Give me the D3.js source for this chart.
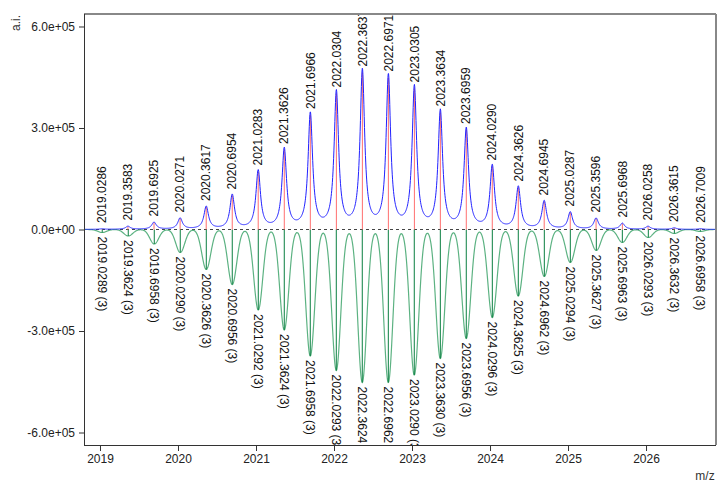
<!DOCTYPE html>
<html>
<head>
<meta charset="utf-8">
<script src="https://cdn.jsdelivr.net/npm/d3@7"></script>
<style>
  body { margin: 0; background: #fff; }
  text { font-family: "Liberation Sans", Arial, sans-serif; }
</style>
</head>
<body>
<script>
'use strict';

// measured centroids (top, blue profile / red sticks)
const measMz = [2019.0286, 2019.3583, 2019.6925, 2020.0271, 2020.3617, 2020.6954,
  2021.0283, 2021.3626, 2021.6966, 2022.0304, 2022.3637, 2022.6971,
  2023.0305, 2023.3634, 2023.6959, 2024.0290, 2024.3626, 2024.6945,
  2025.0287, 2025.3596, 2025.6968, 2026.0258, 2026.3615, 2026.7009];
const measInt = [1500, 8900, 20700, 32500, 66500, 100500,
  171400, 235000, 338400, 402000, 464000, 449300,
  416800, 345800, 294100, 186200, 124100, 82800,
  50200, 32500, 17700, 8900, 4400, 2000];

// simulated centroids (bottom, green), charge 3
const simMz = [2019.0289, 2019.3624, 2019.6958, 2020.0290, 2020.3626, 2020.6956,
  2021.0292, 2021.3624, 2021.6958, 2022.0293, 2022.3624, 2022.6962,
  2023.0290, 2023.3630, 2023.6956, 2024.0296, 2024.3625, 2024.6962,
  2025.0294, 2025.3627, 2025.6963, 2026.0293, 2026.3632, 2026.6958];
const simInt = [8900, 19200, 42900, 68000, 118200, 162600,
  237900, 297000, 373900, 416800, 452200, 452200,
  430000, 381300, 322200, 260100, 196600, 138900,
  97500, 62100, 38400, 23600, 11800, 5900];
const simCharge = 3;

const xTicks = [2019, 2020, 2021, 2022, 2023, 2024, 2025, 2026];
const yTicks = [-6e5, -3e5, 0, 3e5, 6e5];

(function() {
  const width = 717, height = 482;
  const left = 84, right = 716, top = 14, bottom = 445;

  let svg = d3.select('body').append('svg')
    .attr('width', width)
    .attr('height', height);

  let x = d3.scaleLinear().domain([2018.795, 2026.897]).range([left, right]);
  let y = d3.scaleLinear().domain([-636900, 636900]).range([bottom, top]);

  svg.append('clipPath').attr('id', 'plot')
    .append('rect')
    .attr('x', left).attr('y', top)
    .attr('width', right - left).attr('height', bottom - top);

  let plot = svg.append('g').attr('clip-path', 'url(#plot)');

  // zero line
  plot.append('line')
    .attr('x1', left).attr('x2', right)
    .attr('y1', y(0)).attr('y2', y(0))
    .attr('stroke', '#444')
    .attr('stroke-dasharray', '3,3');

  // profile curves built from the centroid lists (peak shapes)
  let grid = d3.range(2018.795, 2026.9, 0.004);
  let measProfile = grid.map(function(m) {
    let s = 0;
    measMz.forEach(function(c, i) {
      let d = (m - c) / 0.035;
      s += measInt[i] / (1 + d * d);
    });
    return [m, s];
  });
  let simProfile = grid.map(function(m) {
    let s = 0;
    simMz.forEach(function(c, i) {
      let d = (m - c) / 0.057;
      s += simInt[i] * Math.exp(-0.5 * d * d);
    });
    return [m, -s];
  });

  let line = d3.line().x((d) => x(d[0])).y((d) => y(d[1]));

  // simulated (green, below)
  plot.append('path')
    .datum(simProfile)
    .attr('d', line)
    .attr('fill', 'none')
    .attr('stroke', '#5cb282')
    .attr('stroke-width', 1.2);

  plot.selectAll('.simStick')
    .data(simMz)
    .enter()
    .append('line')
      .attr('x1', (d) => x(d)).attr('x2', (d) => x(d))
      .attr('y1', y(0))
      .attr('y2', (d, i) => y(-simInt[i]))
      .attr('stroke', '#0a7f40')
      .attr('stroke-width', 1);

  // measured (red sticks + blue profile)
  plot.selectAll('.measStick')
    .data(measMz)
    .enter()
    .append('line')
      .attr('x1', (d) => x(d)).attr('x2', (d) => x(d))
      .attr('y1', y(0))
      .attr('y2', (d, i) => y(measInt[i]))
      .attr('stroke', '#ff6f6f')
      .attr('stroke-width', 1);

  plot.append('path')
    .datum(measProfile)
    .attr('d', line)
    .attr('fill', 'none')
    .attr('stroke', '#2222ff')
    .attr('stroke-width', 1);

  // peak labels
  plot.selectAll('.measLabel')
    .data(measMz)
    .enter()
    .append('text')
      .attr('transform', (d, i) => 'translate(' + x(d) + ',' + (y(measInt[i]) - 6) + ')rotate(-90)')
      .attr('dy', '0.35em')
      .style('font-size', '12px')
      .attr('fill', '#111')
      .text((d) => d.toFixed(4));

  plot.selectAll('.simLabel')
    .data(simMz)
    .enter()
    .append('text')
      .attr('transform', (d, i) => 'translate(' + x(d) + ',' + (y(-simInt[i]) + 4) + ')rotate(90)')
      .attr('dy', '0.35em')
      .style('font-size', '12px')
      .attr('fill', '#111')
      .text((d) => d.toFixed(4) + ' (' + simCharge + ')');

  // axes
  let yAxis = d3.axisLeft(y)
    .tickValues(yTicks)
    .tickSize(5)
    .tickPadding(4)
    .tickFormat((d) => d === 0 ? '0.0e+00' : (d / 1e5).toFixed(1) + 'e+05');
  let gy = svg.append('g')
    .attr('transform', 'translate(' + left + ',0)')
    .call(yAxis);

  let xAxis = d3.axisBottom(x)
    .tickValues(xTicks)
    .tickSize(6)
    .tickPadding(3)
    .tickFormat(d3.format('d'));
  let gx = svg.append('g')
    .attr('transform', 'translate(0,' + bottom + ')')
    .call(xAxis);

  [gx, gy].forEach(function(g) {
    g.select('.domain').remove();
    g.selectAll('line').attr('stroke', '#333');
    g.selectAll('text')
      .style('font-size', '12px')
      .style('font-family', '"Liberation Sans", Arial, sans-serif')
      .attr('fill', '#222');
  });

  // frame
  svg.append('line')
    .attr('x1', left).attr('x2', right).attr('y1', top).attr('y2', top)
    .attr('stroke', '#888').attr('stroke-width', 2);
  svg.append('line')
    .attr('x1', right).attr('x2', right).attr('y1', top).attr('y2', bottom)
    .attr('stroke', '#888').attr('stroke-width', 2);
  svg.append('line')
    .attr('x1', left + 0.5).attr('x2', left + 0.5).attr('y1', top).attr('y2', bottom)
    .attr('stroke', '#333');
  svg.append('line')
    .attr('x1', left).attr('x2', right).attr('y1', bottom + 0.5).attr('y2', bottom + 0.5)
    .attr('stroke', '#333');

  // axis titles
  svg.append('text')
    .attr('transform', 'translate(16,23)rotate(-90)')
    .attr('text-anchor', 'middle')
    .attr('dy', '0.35em')
    .style('font-size', '12px')
    .attr('fill', '#333')
    .text('a.i.');

  svg.append('text')
    .attr('x', 705)
    .attr('y', 480)
    .attr('text-anchor', 'middle')
    .style('font-size', '12px')
    .attr('fill', '#333')
    .text('m/z');
})();
</script>
</body>
</html>
